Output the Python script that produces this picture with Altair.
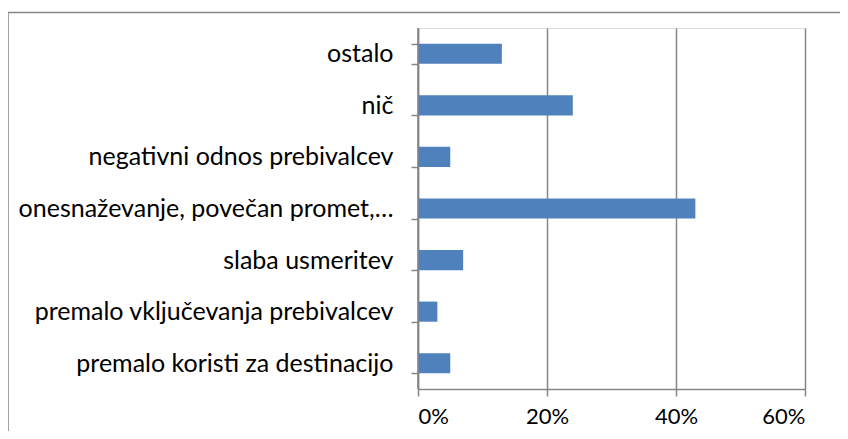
import altair as alt
import pandas as pd

categories = [
    "ostalo",
    "nič",
    "negativni odnos prebivalcev",
    "onesnaževanje, povečan promet,…",
    "slaba usmeritev",
    "premalo vključevanja prebivalcev",
    "premalo koristi za destinacijo",
]
values = [0.13, 0.24, 0.05, 0.43, 0.07, 0.03, 0.05]
x_ticks = [0, 0.2, 0.4, 0.6]

df = pd.DataFrame({"cat": categories, "val": values})

GRAY = "#868686"
FONT = "Lato"
W, H = 387, 361

bars = alt.Chart(df).mark_bar(color="#4F81BD").encode(
    y=alt.Y(
        "cat:N",
        sort=categories,
        title=None,
        scale=alt.Scale(paddingInner=0.61, paddingOuter=0.305),
        axis=alt.Axis(
            domain=True,
            tickBand="extent",
            ticks=True,
            tickSize=7,
            tickColor=GRAY,
            tickWidth=1.5,
            domainColor=GRAY,
            domainWidth=1.5,
            labelFont=FONT,
            labelFontSize=25,
            labelColor="#000000",
            labelPadding=18,
            labelLimit=0,
            grid=False,
        ),
    ),
    x=alt.X(
        "val:Q",
        title=None,
        scale=alt.Scale(domain=[0, 0.6], nice=False),
        axis=alt.Axis(
            values=x_ticks,
            format=".0%",
            tickSize=7,
            tickColor=GRAY,
            tickWidth=1.5,
            domainColor=GRAY,
            domainWidth=1.5,
            grid=True,
            gridColor=GRAY,
            gridWidth=1.5,
            labelFont=FONT,
            labelFontSize=22,
            labelColor="#000000",
            labelPadding=10,
        ),
    ),
)

zero_line = alt.Chart(pd.DataFrame({"z": [0]})).mark_rule(
    color=GRAY, strokeWidth=1.5
).encode(x=alt.X("z:Q"))

frame = alt.Chart(pd.DataFrame({"f": [0]})).mark_rect(
    fill=None, stroke=GRAY, strokeWidth=1.5
).encode(
    x=alt.value(-410),
    x2=alt.value(W + 60),
    y=alt.value(-15.5),
    y2=alt.value(H + 80),
)

chart = alt.layer(frame, bars, zero_line).properties(
    width=W,
    height=H,
    autosize=alt.AutoSizeParams(type="none"),
    padding={"left": 410, "top": 20, "right": 35, "bottom": 42},
).configure_view(stroke=None).configure(background="white")

chart.save("out.html", embed_options={"renderer": "svg", "actions": False})
